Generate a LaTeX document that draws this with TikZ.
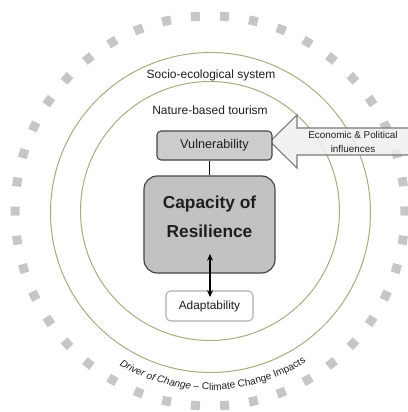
\documentclass[tikz,border=0pt]{standalone}
\usepackage{fontspec}
\setmainfont{Liberation Sans}
\usetikzlibrary{arrows.meta,decorations.text}

\definecolor{ringgray}{RGB}{198,198,198}
\definecolor{circgreen}{RGB}{160,176,128}
\definecolor{vulngray}{RGB}{204,204,204}
\definecolor{capgray}{RGB}{194,194,194}
\definecolor{edgegray}{RGB}{70,70,70}
\definecolor{adaptedge}{RGB}{175,175,175}
\definecolor{pressfill}{RGB}{238,238,238}
\definecolor{pressedge}{RGB}{120,120,120}
\definecolor{txtgray}{RGB}{30,30,30}

\tikzset{
  dotring/.style={draw=ringgray, line width=6.75pt, dash pattern=on 6.75pt off 15.13pt, dash phase=3.375pt},
  systemcircle/.style={draw=circgreen, line width=0.75pt},
  lbl/.style={inner sep=0.75pt, text=txtgray, font=\fontsize{9}{11}\selectfont},
  vulnbox/.style={draw=edgegray, fill=vulngray, line width=0.8pt, rounded corners=3pt,
    minimum width=86.25pt, minimum height=21.75pt, inner sep=0pt, text=txtgray,
    font=\fontsize{9.5}{11}\selectfont},
  capbox/.style={draw=edgegray, fill=capgray, line width=0.9pt, rounded corners=10pt,
    minimum width=98.25pt, minimum height=72.75pt, inner sep=0pt, align=center, text=txtgray,
    font=\fontsize{13}{21.75}\selectfont\bfseries},
  adaptbox/.style={draw=adaptedge, fill=white, line width=0.8pt, rounded corners=3.5pt,
    minimum width=65.25pt, minimum height=22.5pt, inner sep=0pt, text=txtgray,
    font=\fontsize{8.9}{11}\selectfont},
  pressarrow/.style={draw=pressedge, fill=pressfill, fill opacity=0.85, line width=0.8pt, line join=miter},
  presstxt/.style={inner sep=0.75pt, align=center, text=txtgray, font=\fontsize{7.4}{10.5}\selectfont},
  link/.style={draw=black, line width=1.4pt},
  >={Stealth[length=5pt,width=4.5pt]}
}

\begin{document}
\begin{tikzpicture}[x=0.75pt,y=0.75pt,yscale=-1,xscale=1]
\path[use as bounding box] (0,0) rectangle (408,412);

%Shape: Circle (driver ring)
\draw[dotring] (210,211) circle [radius=195];
%Shape: Circle (socio-ecological system)
\draw[systemcircle] (210.5,212.5) circle [radius=160];
%Shape: Circle (nature-based tourism)
\draw[systemcircle] (210,211) circle [radius=129.5];

%Shape: Left Arrow (outside influences)
\draw[pressarrow] (270,141.5) -- (297,115) -- (297,128) -- (420,128) -- (420,155) -- (297,155) -- (297,168) -- cycle;

% Text Node
\node[lbl] (ses) at (211,75) {Socio-ecological system};
% Text Node
\node[lbl] (nbt) at (210,110) {Nature-based tourism};
% Text Node
\node[presstxt] (econ) at (353,141.5) {Economic \& Political\\influences};

%Rounded Rect
\node[vulnbox] (vuln) at (214.5,145.5) {Vulnerability};
%Rounded Rect
\node[capbox] (cap) at (209.5,224.5) {Capacity of\\Resilience\rule[-11pt]{0pt}{0pt}};
%Rounded Rect
\node[adaptbox] (adapt) at (209.5,306) {Adaptability};

%Straight Lines
\draw[link] (cap.north |- vuln.south) -- (cap.north);
%Straight Lines
\coordinate (captip) at (210,254);
\coordinate (adapttip) at (210,297);
\draw[link,<->] (captip) -- (adapttip);

% Text along the ring
\path[decorate, decoration={text along path, text color=txtgray, text align=center,
  text={|\fontsize{7.5}{8}\selectfont\itshape|Driver of Change |\fontsize{7.5}{8}\selectfont\upshape|– Climate Change Impacts}}]
  (110.5,359.6) arc [start angle=124, end angle=54, radius=178];

\end{tikzpicture}
\end{document}
